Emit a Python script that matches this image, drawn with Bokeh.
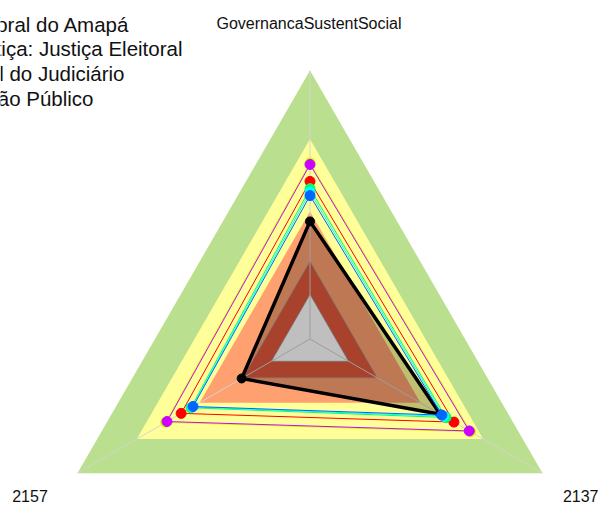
import numpy as np
from bokeh.plotting import figure
from bokeh.models import Range1d, Label
from bokeh.embed import file_html
from bokeh.resources import INLINE

# ---------------- data ----------------
axis_labels = ["GovernancaSustentSocial", "2157", "2137"]   # top, bottom-left, bottom-right
axis_angles_deg = [90, 210, 330]

# background bands (fraction of maximum radius), outer to inner
band_levels = [1.0, 0.745, 0.475, 0.289, 0.166]
band_colors = ["#BADF8E", "#FFFF99", "#FFA070", "#E0583D", "#FFFFFF"]

# organisation (black, filled)
org_values = [0.438, 0.294, 0.560]

# comparison series (rainbow colours)
red_values = [0.587, 0.554, 0.619]
yellowgreen_values = [0.656, 0.621, 0.691]
green_values = [0.560, 0.512, 0.585]
cyan_values = [0.547, 0.507, 0.576]
blue_values = [0.534, 0.503, 0.567]
purple_values = [0.650, 0.615, 0.685]

series_values = [red_values, yellowgreen_values, green_values, cyan_values, blue_values, purple_values]
series_colors = ["#FF0000", "#CCFF00", "#00FF66", "#00FFFF", "#0066FF", "#CC00FF"]

legend_labels = [
    "Tribunal Regional Eleitoral do Amapá",
    "Segmento de Justiça: Justiça Eleitoral",
    "Média Geral do Judiciário",
    "Média do Órgão Público",
]

# ---------------- helpers ----------------
theta = np.deg2rad(axis_angles_deg)


def polar(vals):
    v = np.asarray(vals, dtype=float)
    return list(v * np.cos(theta)), list(v * np.sin(theta))


# ---------------- figure ----------------
p = figure(width=600, height=504, output_backend="svg", toolbar_location=None,
           x_range=Range1d(-1.1527, 1.0819), y_range=Range1d(-0.6164, 1.2607),
           min_border=0)
p.axis.visible = False
p.grid.visible = False
p.outline_line_color = None
p.background_fill_color = "white"

# bands
for i, (lvl, col) in enumerate(zip(band_levels, band_colors)):
    xs, ys = polar([lvl] * 3)
    if i >= 3:
        p.patch(xs, ys, fill_color=col, line_color="#9A9A9A", line_width=1, line_alpha=0.7)
    else:
        p.patch(xs, ys, fill_color=col, line_color=None)

# axis lines
vx, vy = polar([1.0] * 3)
p.segment(x0=[0, 0, 0], y0=[0, 0, 0], x1=vx, y1=vy, line_color="#D3D3D3", line_width=1)

# organisation polygon
ox, oy = polar(org_values)
p.patch(ox, oy, fill_color="black", fill_alpha=0.25, line_color="black", line_width=3.5)
p.scatter(ox, oy, size=9, color="black")

# comparison series
for vals, col in zip(series_values, series_colors):
    sx, sy = polar(vals)
    p.patch(sx, sy, fill_alpha=0, line_color=col, line_width=1)
    p.scatter(sx, sy, size=10, color=col)

# axis labels
font = "Liberation Sans"
p.add_layout(Label(x=308.5, y=480.7, x_units="screen", y_units="screen", text=axis_labels[0],
                   text_align="center", text_baseline="alphabetic", text_font=font,
                   text_font_size="16px", text_color="#111111"))
p.add_layout(Label(x=29.5, y=9, x_units="screen", y_units="screen", text=axis_labels[1],
                   text_align="center", text_baseline="alphabetic", text_font=font,
                   text_font_size="16px", text_color="#111111"))
p.add_layout(Label(x=598, y=9, x_units="screen", y_units="screen", text=axis_labels[2],
                   text_align="right", text_baseline="alphabetic", text_font=font,
                   text_font_size="16px", text_color="#111111"))

# legend texts (cut at the left edge as in the reference)
legend_right = [129, 182, 124, 93]
legend_base = [480, 456, 431, 406]
for txt, rx, by in zip(legend_labels, legend_right, legend_base):
    p.add_layout(Label(x=rx, y=by, x_units="screen", y_units="screen", text=txt,
                       text_align="right", text_baseline="alphabetic", text_font=font,
                       text_font_size="20.5px", text_color="#111111"))

open("out.html", "w").write(file_html(p, INLINE))
